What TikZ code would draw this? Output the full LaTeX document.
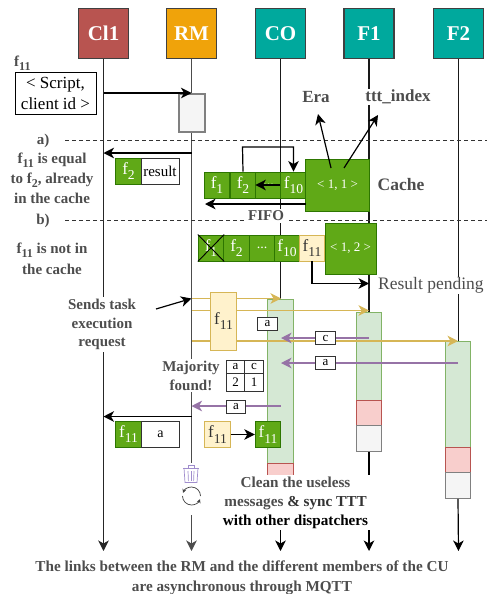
\documentclass[tikz,border=0pt]{standalone}
\usepackage{fontspec}
\setmainfont{Liberation Serif}
\usetikzlibrary{arrows.meta}
\definecolor{greenfill}{HTML}{60A917}
\definecolor{greendraw}{HTML}{2D7600}
\definecolor{yelfill}{HTML}{FFF2CC}
\definecolor{yeldraw}{HTML}{D6B656}
\definecolor{barfill}{HTML}{D5E8D4}
\definecolor{bardraw}{HTML}{82B366}
\definecolor{redfill}{HTML}{F8CECC}
\definecolor{reddraw}{HTML}{B85450}
\definecolor{greyfill}{HTML}{F5F5F5}
\definecolor{greydraw}{HTML}{808080}
\definecolor{purp}{HTML}{9673A6}
\definecolor{textgrey}{HTML}{4D4D4D}
\newcommand{\fsub}[1]{\raisebox{-.3em}{\scalebox{.8}{#1}}}
\newcommand{\dotcell}{\raisebox{-2pt}{\fontsize{14}{14}\selectfont ...}}

\begin{document}
\begin{tikzpicture}[x=1pt, y=-1pt]
        \tikzstyle{head}    = [minimum size=50pt, inner sep=0pt, draw=black!75, line width=1.1pt, text=white, font=\fontsize{21}{25}\selectfont\bfseries]
        \tikzstyle{cell}    = [minimum width=25.5pt, minimum height=26pt, inner sep=0pt, line width=0.9pt, font=\fontsize{17}{20}\selectfont]
        \tikzstyle{gcell}   = [cell, fill=greenfill, draw=greendraw, text=white]
        \tikzstyle{ycell}   = [cell, fill=yelfill, draw=yeldraw, text=black!80]
        \tikzstyle{wcell}   = [cell, fill=white, draw=black!80]
        \tikzstyle{era}     = [gcell, font=\fontsize{13}{16}\selectfont]
        \tikzstyle{msg}     = [draw=black!80, fill=white, line width=0.9pt, inner sep=0pt, minimum width=19.5pt, minimum height=13pt, font=\fontsize{13}{13}\selectfont]
        \tikzstyle{bartop}  = [minimum width=25.5pt, inner sep=0pt, fill=barfill, draw=bardraw, line width=0.9pt]
        \tikzstyle{barred}  = [minimum width=25.5pt, inner sep=0pt, fill=redfill, draw=reddraw, line width=0.9pt]
        \tikzstyle{bargrey} = [minimum width=25.5pt, inner sep=0pt, fill=greyfill, draw=greydraw, line width=0.9pt]
        \tikzstyle{note}    = [align=center, inner sep=1pt, fill=white, text=textgrey, font=\fontsize{15}{20}\selectfont\bfseries]
        \tikzstyle{arr}     = [-{Stealth[length=10.5pt, width=10.5pt, inset=3pt]}, line width=1.2pt]
        \tikzstyle{yarr}    = [arr, draw=yeldraw]
        \tikzstyle{parr}    = [arr, draw=purp]
        \tikzstyle{sep}     = [dashed, dash pattern=on 4pt off 3pt, line width=0.9pt, black!80]

        \useasboundingbox (0,0) rectangle (487,594);

        % heads and life lines
        \foreach \name/\txt/\col/\x in {cl/Cl1/B85450/103.5, rm/RM/F0A30A/191.5, co/CO/00A99D/280.5, fa/F1/00A99D/369, fb/F2/00A99D/458.5}
        {
                \definecolor{headcol}{HTML}{\col}
                \node [head, fill=headcol](\name) at (\x, 33.5) {\txt};
                \coordinate (\name end) at (\x, 551);
        }

        \draw [arr, line width=1.3pt, black!85] (cl.south) -- (clend);
        \draw [line width=1.6pt, black!70] (rm.south) -- (191.5, 463);
        \draw [line width=1.2pt, black!90] (co.south) -- (280.5, 300);
        \draw [line width=1.2pt, black!90] (fa.south) -- (369, 312);
        \draw [line width=1.2pt, black!90] (fb.south) -- (458.5, 341);

        \draw [sep] (65, 140) -- (487, 140);
        \draw [sep] (65, 220) -- (487, 220);

        % request from the client
        \node [anchor=west, inner sep=0pt, text=textgrey, font=\fontsize{15}{18}\selectfont\bfseries](fname) at (14, 63) {f\fsub{11}};
        \node [draw=black, line width=0.9pt, minimum width=81pt, minimum height=42pt, inner sep=0pt, align=center, font=\fontsize{17}{21}\selectfont](script) at (55.5, 93) {< Script,\\client id >};
        \node [minimum width=26pt, minimum height=38pt, inner sep=0pt, fill=greyfill, draw=greydraw, line width=1.1pt](rmbox) at (192, 113) {};
        \coordinate (clin) at (103.5, 93);
        \coordinate (rmin) at (191.5, 93);
        \draw [arr] (clin) -- (rmin);

        % case a
        \node [note](casea) at (43, 140.5) {a)};
        \node [note, fill=none](casetxt) at (52, 178) {f\fsub{11} is equal\\to f\fsub{2}, already\\in the cache};
        \coordinate (rmout) at (191.5, 153);
        \coordinate (clback) at (103.5, 153);
        \draw [arr] (rmout) -- (clback);
        \node [gcell](hitf) at (128.5, 171) {f\fsub{2}};
        \node [wcell, minimum width=38pt, font=\fontsize{15}{18}\selectfont](hitres) at (160, 171) {result};

        % cache
        \foreach \i/\txt/\x in {1/f\fsub{1}/217, 2/f\fsub{2}/243, 3/\dotcell/268.5, 4/f\fsub{10}/293.5}
        {
                \node [gcell](ca\i) at (\x, 185) {\txt};
        }
        \node [era, minimum width=63.5pt, minimum height=52pt](caera) at (337.5, 185) {< 1, 1 >};
        \coordinate (erain) at (331, 168);
        \coordinate (idxin) at (344, 168);
        \node [inner sep=1pt, fill=white, text=textgrey, font=\fontsize{17}{20}\selectfont\bfseries](era) at (316, 97) {Era};
        \node [inner sep=1pt, fill=white, text=textgrey, font=\fontsize{17}{20}\selectfont\bfseries](idx) at (398, 97) {ttt\_index};
        \node [anchor=west, inner sep=0pt, text=textgrey, font=\fontsize{17.5}{20}\selectfont\bfseries](cachelab) at (377.5, 185) {Cache};
        \coordinate (eratip) at (318, 114);
        \coordinate (idxtip) at (378, 115);
        \draw [arr] (erain) -- (eratip);
        \draw [arr] (idxin) -- (idxtip);
        \draw [arr] (ca2.north) -- (242.5, 147) -- (293.5, 147) -- (ca4.north);
        \draw [arr] (ca4.west) -- (ca3.west);
        \coordinate (fifoin) at (305.7, 204);
        \coordinate (fifoout) at (205, 204);
        \draw [arr] (fifoin) -- (fifoout);
        \node [note, inner sep=2pt, font=\fontsize{15}{18}\selectfont\bfseries](fifo) at (266, 216) {FIFO};

        % case b
        \node [note](caseb) at (43, 220.5) {b)};
        \node [note, fill=none, font=\fontsize{15}{21}\selectfont\bfseries](casebtxt) at (52, 258.5) {f\fsub{11} is not in\\the cache};
        \foreach \i/\txt/\x in {1/f\fsub{1}/211, 2/f\fsub{2}/236.5, 3/\dotcell/262, 4/f\fsub{10}/287}
        {
                \node [gcell](cb\i) at (\x, 248) {\txt};
        }
        \draw [line width=0.9pt] (cb1.north west) -- (cb1.south east);
        \draw [line width=0.9pt] (cb1.north east) -- (cb1.south west);
        \node [ycell](cbnew) at (312, 248) {f\fsub{11}};
        \node [era, minimum width=51pt, minimum height=51pt](cbera) at (350.5, 248.5) {< 1, 2 >};
        \coordinate (pendtip) at (369, 283.5);
        \draw [arr] (cbnew.south) -- (312, 283.5) -- (pendtip);
        \node [anchor=west, inner sep=1pt, fill=white, text=textgrey, font=\fontsize{17.5}{20}\selectfont](pending) at (377, 285.5) {Result pending};

        % the bars of the members
        \node [bartop, anchor=north, minimum height=164pt](cobar) at (280.5, 299) {};
        \node [barred, anchor=north, minimum height=14pt](cored) at (280.5, 463) {};
        \node [bartop, anchor=north, minimum height=88pt](fabar) at (369, 312) {};
        \node [barred, anchor=north, minimum height=25pt](fared) at (369, 400) {};
        \node [bargrey, anchor=north, minimum height=26pt](fagrey) at (369, 425) {};
        \node [bartop, anchor=north, minimum height=106pt](fbbar) at (458, 341) {};
        \node [barred, anchor=north, minimum height=25pt](fbred) at (458, 447) {};
        \node [bargrey, anchor=north, minimum height=26pt](fbgrey) at (458, 472) {};

        % task execution request
        \coordinate (reqa) at (191.5, 298.5);
        \coordinate (reqb) at (191.5, 310.5);
        \coordinate (reqc) at (191.5, 341);
        \draw [yarr] (reqa) -- (281, 298.5);
        \draw [yarr] (reqb) -- (369, 310.5);
        \draw [yarr] (reqc) -- (458, 341);
        \node [ycell, minimum height=58pt](req) at (223.5, 321) {f\fsub{11}};
        \node [note, inner sep=2pt, font=\fontsize{15}{18.5}\selectfont\bfseries](sends) at (102, 324.5) {Sends task\\execution\\request};
        \coordinate (sendsout) at (156, 309);
        \coordinate (sendstip) at (191.5, 298.5);
        \draw [arr] (sendsout) -- (sendstip);

        % answers of the members
        \node [msg](msga) at (267.5, 324) {a};
        \coordinate (fcout) at (369, 338);
        \coordinate (fcin) at (281, 338);
        \draw [parr] (fcout) -- (fcin);
        \node [msg](msgc) at (325.5, 338) {c};
        \coordinate (faout) at (458, 363);
        \coordinate (fain) at (281, 363);
        \draw [parr] (faout) -- (fain);
        \node [msg](msgb) at (325.5, 363) {a};

        % majority
        \node [note, inner sep=2pt, font=\fontsize{15}{19}\selectfont\bfseries](major) at (191, 375.5) {Majority\\found!};
        \foreach \name/\txt/\x/\y/\h in {ta/a/235.5/366.5/13, tc/c/254/366.5/13, tb/2/235.5/382/18, td/1/254/382/18}
        {
                \node [msg, minimum width=18.5pt, minimum height=\h pt](\name) at (\x, \y) {\txt};
        }
        \coordinate (coout) at (280.5, 406);
        \coordinate (rmback) at (191.5, 406);
        \draw [parr] (coout) -- (rmback);
        \node [msg](msgd) at (236, 406.5) {a};

        % answer to the client
        \coordinate (rmans) at (191.5, 416.5);
        \coordinate (clans) at (103.5, 416.5);
        \draw [arr] (rmans) -- (clans);
        \node [gcell](ansf) at (128.5, 434) {f\fsub{11}};
        \node [wcell, minimum width=38.5pt, font=\fontsize{14}{16}\selectfont](ansa) at (160.5, 434) {a};
        \node [ycell](newf) at (217.5, 434.5) {f\fsub{11}};
        \node [gcell](oldf) at (268, 434.5) {f\fsub{11}};
        \draw [arr] (newf) -- (oldf);

        % trash and sync
        \begin{scope}[shift={(191, 474)}, draw=purp!80!blue!70, line width=0.7pt]
                \draw (-8, -6) -- (8, -6);
                \draw (-3, -6) -- (-3, -8.5) -- (3, -8.5) -- (3, -6);
                \draw (-7, -6) -- (-6, 8.5) -- (6, 8.5) -- (7, -6);
                \draw (-3, -3) -- (-2.6, 7);
                \draw (0, -3) -- (0, 7);
                \draw (3, -3) -- (2.6, 7);
        \end{scope}
        \begin{scope}[shift={(191.5, 496)}, line width=0.7pt, black!75]
                \draw [-{Stealth[length=4pt, width=4pt]}] (-9, 0) arc (180:20:9);
                \draw [-{Stealth[length=4pt, width=4pt]}] (9, 0) arc (0:-160:9);
        \end{scope}

        % lines below the bars
        \coordinate (rmlow) at (191.5, 515);
        \draw [arr, line width=1.6pt, black!70] (rmlow) -- (rmend);
        \draw [arr] (fagrey.south) -- (faend);
        \draw [arr] (fbgrey.south) -- (fbend);

        \node [note, inner sep=0pt, font=\fontsize{15.2}{19}\selectfont\bfseries, minimum width=149pt, minimum height=55pt](clean) at (295.5, 502.5) {Clean the useless\\messages \textcolor{black!80}{\& sync TTT}\\\textcolor{black}{with other dispatchers}};
        \coordinate (cobelow) at (280.5, 530);
        \draw [arr] (cobelow) -- (coend);

        \node [note, fill=none, font=\fontsize{15.2}{20}\selectfont\bfseries](bottom) at (242, 578) {The links between the RM and the different members of the CU\\are asynchronous through MQTT};
\end{tikzpicture}
\end{document}
